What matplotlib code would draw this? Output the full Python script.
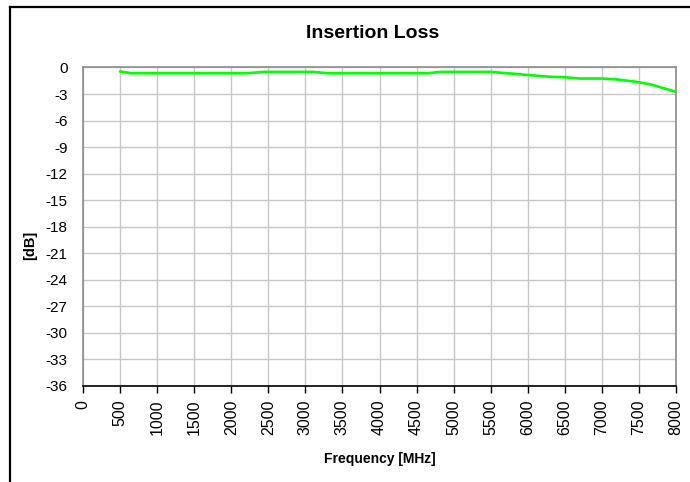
import matplotlib.pyplot as plt
from matplotlib.lines import Line2D

plt.rcParams['font.family'] = ['Liberation Sans', 'DejaVu Sans']

# insertion loss
freq_mhz = [500, 650, 1000, 1500, 2000, 2200, 2450, 2800, 3100, 3300, 3800, 4300,
            4650, 4820, 5200, 5500, 5800, 6000, 6300, 6500, 6700, 7000, 7200, 7450,
            7650, 8000]
loss_db = [-0.45, -0.65, -0.65, -0.65, -0.65, -0.65, -0.5, -0.5, -0.5, -0.65, -0.65, -0.65,
           -0.65, -0.5, -0.5, -0.5, -0.7, -0.85, -1.05, -1.1, -1.25, -1.25, -1.35, -1.6,
           -1.9, -2.75]

x_ticks = list(range(0, 8001, 500))
y_ticks = list(range(0, -37, -3))

fig = plt.figure(figsize=(6.9, 4.82), dpi=100)
ax = fig.add_axes([0.1203, 0.1992, 0.8594, 0.6608])

ax.plot(freq_mhz, loss_db, color='#00ff00', lw=1.9, solid_capstyle='round')

ax.set_xlim(0, 8000)
ax.set_ylim(-36, 0)
ax.set_xticks(x_ticks)
ax.set_xticklabels([str(v) for v in x_ticks], rotation=90, fontsize=11.5)
ax.set_yticks(y_ticks)
ax.set_yticklabels([str(v) for v in y_ticks], fontsize=11)
ax.tick_params(axis='y', length=0, pad=11)
ax.tick_params(axis='x', length=5, width=1, color='black', pad=5)
ax.grid(True, color='#c8c8c8', lw=1)
ax.set_axisbelow(True)

for side in ['left', 'top', 'right']:
    ax.spines[side].set_color('#8c8c8c')
    ax.spines[side].set_linewidth(1.2)
ax.spines['bottom'].set_color('black')
ax.spines['bottom'].set_linewidth(1.2)

ax.set_xlabel('Frequency [MHz]', fontsize=10, fontweight='bold', labelpad=12)
ax.set_ylabel('[dB]', fontsize=10.5, fontweight='bold')
ax.yaxis.set_label_coords(-0.077, 0.44)

fig.text(373 / 690, 1 - 34 / 482, 'Insertion Loss', fontsize=14, fontweight='bold',
         ha='center', va='center')

# outer chart frame (left and top edges visible)
fig.add_artist(Line2D([10 / 690, 10 / 690], [0, 1 - 7 / 482], transform=fig.transFigure,
                      color='black', lw=1.6))
fig.add_artist(Line2D([10 / 690, 1], [1 - 7 / 482, 1 - 7 / 482], transform=fig.transFigure,
                      color='black', lw=1.6))

fig.savefig('out.png', dpi=100)
